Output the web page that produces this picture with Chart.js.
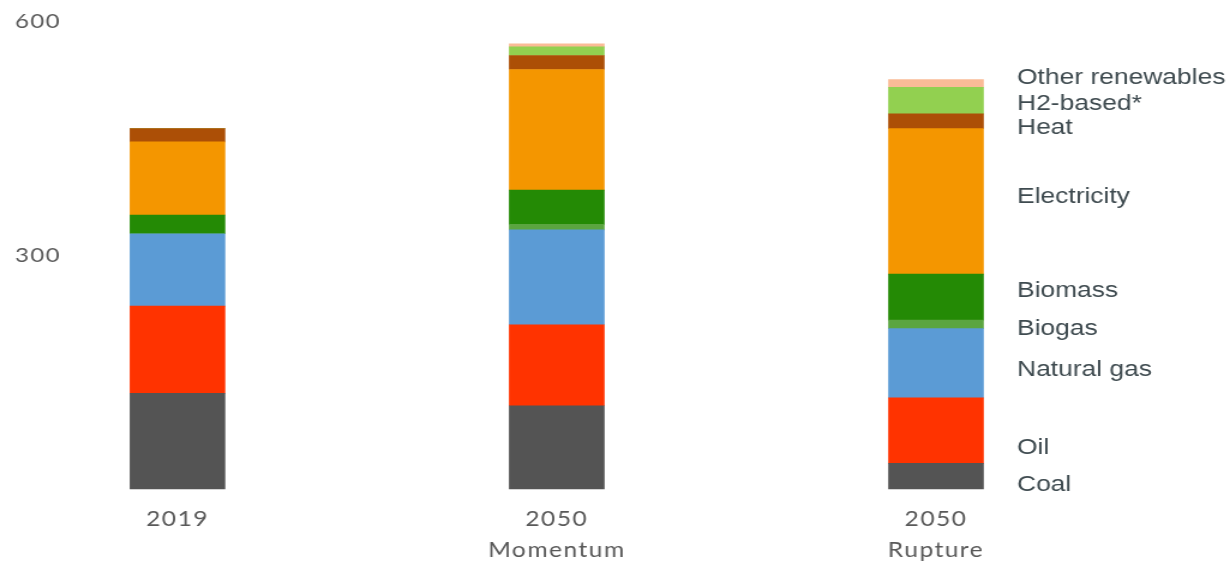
<!DOCTYPE html>
<html>
<head>
<meta charset="utf-8">
<title>Final energy consumption by carrier</title>
<script src="https://cdn.jsdelivr.net/npm/chart.js@4.4.1/dist/chart.umd.min.js"></script>
<style>
  html, body { margin: 0; padding: 0; background: #fff; overflow: hidden; }
  /* the chart is laid out narrow and stretched out wide */
  #wrap { width: 1025px; height: 572px; transform: scaleX(1.2); transform-origin: 0 0; }
</style>
</head>
<body>
<div id="wrap"><canvas id="energy-chart" width="1025" height="572"></canvas></div>
<script>
/***** Data *****/
const scenarios = [["2019"], ["2050", "Momentum"], ["2050", "Rupture"]];
const yTicks = [0, 300, 600];

// Stacked from the bottom up
const coal = [123, 107, 33];
const oil = [112, 104, 84];
const naturalGas = [93, 122, 89];
const biogas = [0, 7, 11];
const biomass = [24, 44, 59];
const electricity = [94, 155, 187];
const heat = [17, 18, 19];
const h2Based = [0, 11, 34];
const otherRenewables = [0, 4, 10];

const carriers = [
  { label: "Coal", data: coal, color: "#545454" },
  { label: "Oil", data: oil, color: "#ff3300" },
  { label: "Natural gas", data: naturalGas, color: "#5b9bd5" },
  { label: "Biogas", data: biogas, color: "#5ba540" },
  { label: "Biomass", data: biomass, color: "#248a05" },
  { label: "Electricity", data: electricity, color: "#f49600" },
  { label: "Heat", data: heat, color: "#ac4f06" },
  { label: "H2-based*", data: h2Based, color: "#92d050" },
  { label: "Other renewables", data: otherRenewables, color: "#fabb96" },
];

// Vertical shifts (px) of the side labels so they don't collide
const labelNudge = [9, 17, 7, 5, -6, -4, 7, 3, -6];

/***** Plugins *****/
// Wider letter spacing for the axis text (gothic look)
const axisSpacing = {
  id: "axisSpacing",
  beforeDraw: (chart) => {
    chart.ctx.letterSpacing = "1.2px";
  },
  afterDraw: (chart) => {
    chart.ctx.letterSpacing = "0px";
  },
};

// Writes the carrier names next to the last bar
const sideLabels = {
  id: "sideLabels",
  afterDatasetsDraw: (chart) => {
    const ctx = chart.ctx;
    const last = scenarios.length - 1;
    ctx.save();
    ctx.letterSpacing = "0px";
    ctx.font = "22px 'Liberation Sans', Arial, sans-serif";
    ctx.fillStyle = "#3e4a4f";
    ctx.textAlign = "left";
    ctx.textBaseline = "middle";
    chart.data.datasets.forEach((ds, i) => {
      const bar = chart.getDatasetMeta(i).data[last];
      const x = bar.x + bar.width / 2 + 28;
      const y = (bar.y + bar.base) / 2 + labelNudge[i];
      ctx.fillText(ds.label, x, y);
    });
    ctx.restore();
  },
};

/***** Chart *****/
const xFont = { family: "Lato, 'Open Sans', sans-serif", size: 20.5, lineHeight: 1.52 };
const yFont = { family: "Lato, 'Open Sans', sans-serif", size: 20 };

new Chart(document.querySelector("#energy-chart"), {
  type: "bar",
  data: {
    labels: scenarios,
    datasets: carriers.map((c) => ({
      label: c.label,
      data: c.data,
      backgroundColor: c.color,
      borderWidth: 0,
      barThickness: 79,
      clip: false,
    })),
  },
  options: {
    responsive: false,
    animation: false,
    layout: { padding: { left: 12.5, right: 245, top: 22, bottom: 5 } },
    plugins: {
      legend: { display: false },
      tooltip: { enabled: false },
    },
    scales: {
      x: {
        stacked: true,
        offset: false,
        grid: { display: false, drawTicks: false },
        border: { display: false },
        afterFit: (scale) => {
          scale.height = 78;
        },
        ticks: { color: "#595959", font: xFont, padding: 15, maxRotation: 0 },
      },
      y: {
        stacked: true,
        min: yTicks[0],
        max: yTicks[yTicks.length - 1],
        grid: { display: false, drawTicks: false },
        border: { display: false },
        afterBuildTicks: (scale) => {
          scale.ticks = yTicks.map((v) => ({ value: v }));
        },
        afterFit: (scale) => {
          scale.width = 135.4;
        },
        ticks: {
          color: "#595959",
          font: yFont,
          crossAlign: "far",
          callback: (value) => (value === 0 ? "" : value),
        },
      },
    },
  },
  plugins: [axisSpacing, sideLabels],
});
</script>
</body>
</html>
